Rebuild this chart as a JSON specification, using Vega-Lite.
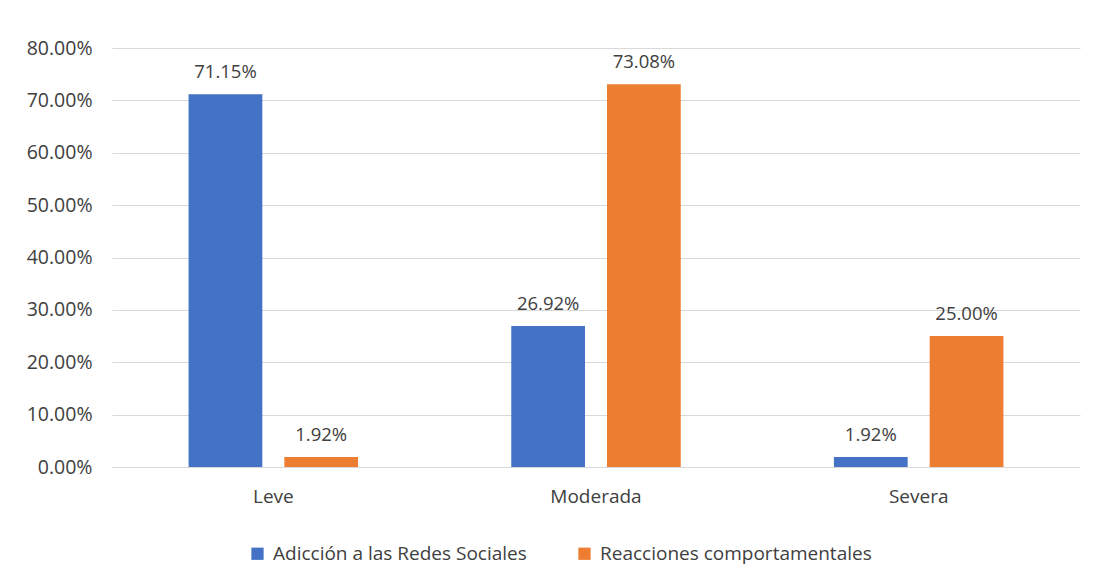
{
  "$schema": "https://vega.github.io/schema/vega-lite/v6.json",
  "width": 968,
  "height": 419,
  "autosize": {"type": "none"},
  "padding": {"left": 112, "top": 48, "right": 18, "bottom": 117},
  "background": "white",
  "config": {
    "view": {"stroke": null},
    "font": "Open Sans"
  },
  "data": {
    "values": [
      {"nivel": "Leve", "serie": "Adicción a las Redes Sociales", "valor": 0.7115},
      {"nivel": "Leve", "serie": "Reacciones comportamentales", "valor": 0.0192},
      {"nivel": "Moderada", "serie": "Adicción a las Redes Sociales", "valor": 0.2692},
      {"nivel": "Moderada", "serie": "Reacciones comportamentales", "valor": 0.7308},
      {"nivel": "Severa", "serie": "Adicción a las Redes Sociales", "valor": 0.0192},
      {"nivel": "Severa", "serie": "Reacciones comportamentales", "valor": 0.25}
    ]
  },
  "encoding": {
    "x": {
      "field": "nivel", "type": "nominal", "sort": null,
      "scale": {"paddingInner": 0, "paddingOuter": 0},
      "axis": {"title": null, "labelAngle": 0, "ticks": false, "domain": false, "labelPadding": 20, "labelFontSize": 19, "labelColor": "#404040"}
    },
    "xOffset": {
      "field": "serie", "type": "nominal",
      "scale": {"paddingInner": 0.23, "paddingOuter": 0.8}
    },
    "y": {
      "field": "valor", "type": "quantitative",
      "scale": {"domain": [0, 0.8]},
      "axis": {"title": null, "format": ".2%", "values": [0, 0.1, 0.2, 0.3, 0.4, 0.5, 0.6, 0.7, 0.8], "labelOverlap": false, "ticks": false, "domain": false, "labelPadding": 20, "labelFontSize": 19.5, "labelColor": "#404040", "gridColor": "#d9d9d9", "gridWidth": 1}
    }
  },
  "layer": [
    {
      "mark": {"type": "bar"},
      "encoding": {
        "color": {
          "field": "serie", "type": "nominal",
          "scale": {"domain": ["Adicción a las Redes Sociales", "Reacciones comportamentales"], "range": ["#4472C4", "#ED7D31"]},
          "legend": {
            "title": null, "orient": "none", "direction": "horizontal",
            "legendX": 136, "legendY": 496,
            "symbolType": "square", "symbolSize": 150, "symbolStrokeWidth": 0,
            "labelFontSize": 19, "labelColor": "#404040", "labelLimit": 400, "columnPadding": 48, "labelOffset": 6
          }
        }
      }
    },
    {
      "mark": {"type": "text", "baseline": "bottom", "dy": -12, "fontSize": 18.5, "color": "#404040"},
      "encoding": {
        "text": {"field": "valor", "type": "quantitative", "format": ".2%"}
      }
    }
  ]
}
